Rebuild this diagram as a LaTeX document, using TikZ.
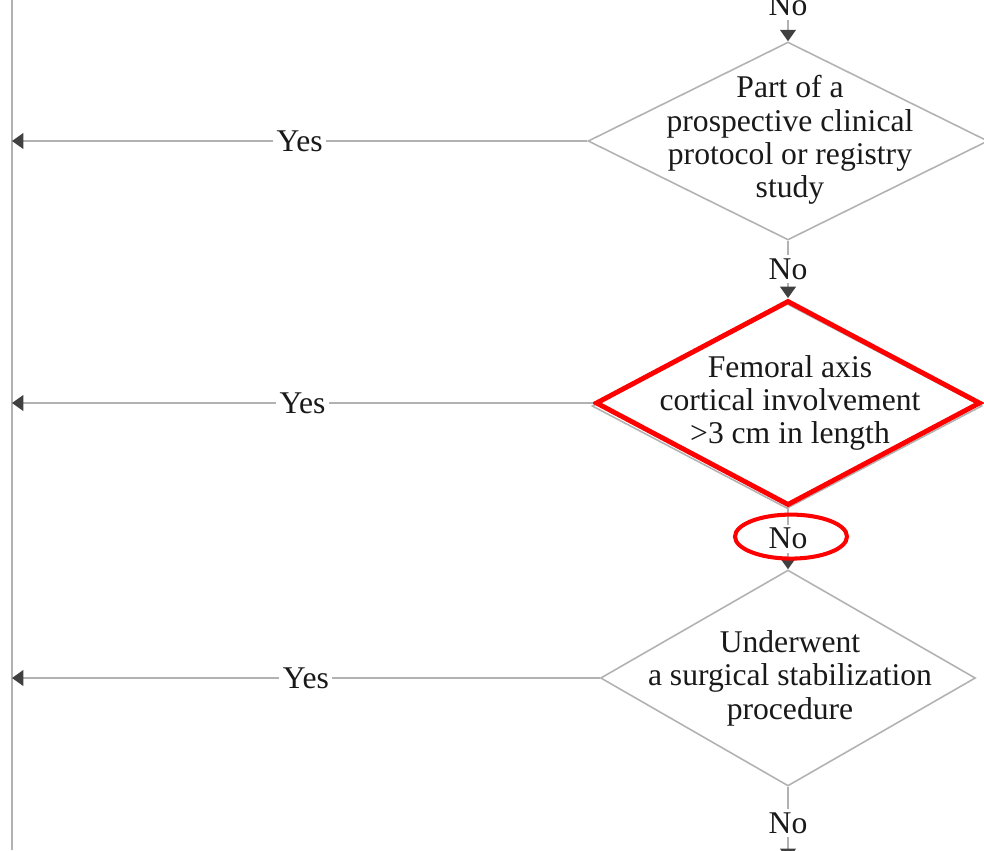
\documentclass[tikz,border=0pt]{standalone}
\usepackage{fontspec}
\setmainfont{Liberation Serif}
\usetikzlibrary{arrows.meta,shapes.geometric,positioning,calc}

\begin{document}
\begin{tikzpicture}[x=0.02cm,y=-0.02cm,
  flow/.style={draw=gray!60,line width=0.9pt,-{Triangle[length=6.5pt,width=9pt,color=black!75]}},
  plain/.style={draw=gray!60,line width=0.9pt},
  decision/.style={diamond,draw=gray!60,line width=0.9pt,inner sep=0pt},
  txt/.style={align=center,font=\fontsize{18}{19}\selectfont,text=black!90},
  lbl/.style={fill=white,inner sep=2pt,font=\fontsize{18}{19}\selectfont,text=black!90}]
\useasboundingbox (0,0) rectangle (984,850);
% left collecting line
\coordinate (vt) at (12,0);
\coordinate (vb) at (12,850);
\draw[plain] (vt) -- (vb);
% decisions
\node[decision,minimum width=8cm,minimum height=3.96cm] (d1) at (788,141) {};
\node[txt] (t1) at (790,140) {Part of a\\prospective clinical\\protocol or registry\\study};
\node[decision,minimum width=7.8cm,minimum height=4.1cm] (d2g) at (787,406) {};
\node[decision,draw=red,line width=2.8pt,minimum width=7.7cm,minimum height=4.1cm] (d2) at (788,403) {};
\node[txt] (t2) at (790,403) {Femoral axis\\cortical involvement\\>3 cm in length};
\node[decision,minimum width=7.5cm,minimum height=4.32cm] (d3) at (788,678) {};
\node[txt] (t3) at (790,678) {Underwent\\a surgical stabilization\\procedure};
% yes branches
\coordinate (y1) at (12,141);
\coordinate (y2) at (12,403);
\coordinate (y3) at (12,678);
\draw[flow] (d1.west) -- node[lbl]{Yes} (y1);
\draw[flow] (d2.west) -- node[lbl]{Yes} (y2);
\draw[flow] (d3.west) -- node[lbl]{Yes} (y3);
% no branches
\coordinate (top) at (788,-30);
\coordinate (bot) at (788,860);
\draw[flow] (top) -- node[lbl]{No} (d1.north);
\draw[flow] (d1.south) -- node[lbl] (no1) {No} (d2.north);
\draw[flow] (d2.south) -- node[lbl] (no2) {No} (d3.north);
\draw[flow] (d3.south) -- node[lbl] (no3) {No} (bot);
% highlight
\node[ellipse,draw=red,line width=2.3pt,minimum width=2.24cm,minimum height=0.88cm] (ring) at ($(no2.center)+(3,-2)$) {};
\end{tikzpicture}
\end{document}
